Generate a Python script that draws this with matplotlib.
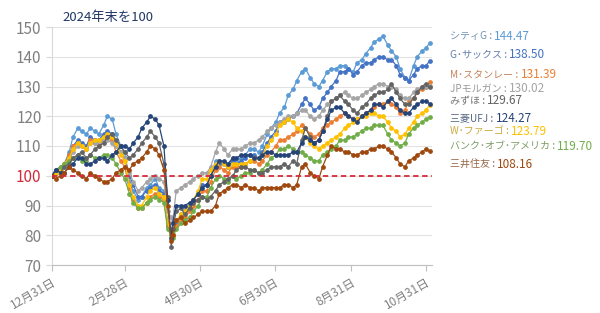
import pandas as pd
import matplotlib
matplotlib.use('Agg')
import matplotlib.pyplot as plt
import matplotlib.colors as mcolors

plt.rcParams['font.family'] = ['Noto Sans CJK JP', 'DejaVu Sans']

# 日付（火曜・金曜）
dates = ['2024-12-31', '2025-01-03', '2025-01-07', '2025-01-10', '2025-01-14', '2025-01-17',
         '2025-01-21', '2025-01-24', '2025-01-28', '2025-01-31',
         '2025-02-04', '2025-02-07', '2025-02-11', '2025-02-14', '2025-02-18', '2025-02-21',
         '2025-02-25', '2025-02-28',
         '2025-03-04', '2025-03-07', '2025-03-11', '2025-03-14', '2025-03-18', '2025-03-21',
         '2025-03-25', '2025-03-28',
         '2025-04-01', '2025-04-04', '2025-04-07', '2025-04-08', '2025-04-11', '2025-04-15',
         '2025-04-18', '2025-04-22', '2025-04-25', '2025-04-29',
         '2025-05-02', '2025-05-06', '2025-05-09', '2025-05-13', '2025-05-16', '2025-05-20',
         '2025-05-23', '2025-05-27', '2025-05-30',
         '2025-06-03', '2025-06-06', '2025-06-10', '2025-06-13', '2025-06-17', '2025-06-20',
         '2025-06-24', '2025-06-27',
         '2025-07-01', '2025-07-04', '2025-07-08', '2025-07-11', '2025-07-15', '2025-07-18',
         '2025-07-22', '2025-07-25', '2025-07-29',
         '2025-08-01', '2025-08-05', '2025-08-08', '2025-08-12', '2025-08-15', '2025-08-19',
         '2025-08-22', '2025-08-26', '2025-08-29',
         '2025-09-02', '2025-09-05', '2025-09-09', '2025-09-12', '2025-09-16', '2025-09-19',
         '2025-09-23', '2025-09-26', '2025-09-30',
         '2025-10-03', '2025-10-07', '2025-10-10', '2025-10-14', '2025-10-17', '2025-10-21',
         '2025-10-24', '2025-10-28', '2025-10-31', '2025-11-03']

citi = [100, 101, 103, 104, 108, 113, 116, 115, 114, 116,
        115, 114, 117, 120, 119, 114, 110, 108,
        98, 95, 92, 93, 96, 97, 99, 96,
        95, 84, 82, 80, 84, 87, 88, 90, 92, 94,
        97, 97, 100, 105, 105, 104, 103, 106, 105,
        106, 107, 109, 109, 108, 110, 114, 116,
        118, 121, 123, 127, 129, 132, 135, 136, 133,
        131, 130, 132, 135, 136, 136, 137, 137, 136,
        135, 138, 139, 141, 143, 145, 146, 147, 144,
        142, 140, 136, 133, 132, 137, 140, 142, 143, 144.47]
gs = [100, 102, 103, 104, 107, 110, 112, 111, 110, 113,
      112, 112, 114, 115, 114, 111, 108, 106,
      100, 97, 93, 93, 95, 96, 97, 95,
      94, 83, 81, 80, 84, 86, 88, 89, 92, 94,
      97, 97, 100, 103, 104, 104, 103, 105, 104,
      105, 106, 107, 107, 106, 108, 111, 113,
      115, 118, 118, 119, 120, 121, 124, 126, 124,
      122, 123, 126, 128, 130, 132, 135, 135, 136,
      134, 135, 137, 138, 138, 139, 140, 140, 139,
      139, 137, 134, 133, 132, 134, 136, 137, 137, 138.50]
ms = [100, 101, 102, 104, 107, 110, 111, 110, 109, 112,
      111, 110, 112, 113, 112, 108, 105, 103,
      96, 92, 89, 89, 91, 93, 94, 93,
      92, 83, 81, 80, 83, 85, 86, 88, 90, 92,
      95, 95, 98, 102, 103, 102, 101, 103, 103,
      103, 104, 105, 105, 104, 105, 107, 108,
      110, 112, 112, 113, 114, 115, 117, 116, 114,
      113, 114, 116, 117, 118, 119, 120, 121, 120,
      119, 119, 120, 121, 122, 123, 124, 124, 125,
      124, 123, 121, 122, 125, 126, 128, 129, 130, 131.39]
jpm = [100, 101, 102, 103, 105, 108, 110, 110, 109, 111,
       111, 111, 112, 112, 111, 110, 108, 106,
       101, 98, 95, 96, 98, 99, 100, 99,
       98, 88, 86, 84, 95, 96, 97, 98, 99, 100,
       101, 101, 103, 108, 111, 109, 107, 109, 109,
       109, 110, 111, 111, 112, 113, 115, 116,
       117, 118, 119, 120, 120, 121, 122, 122, 120,
       119, 120, 122, 124, 125, 126, 127, 128, 127,
       126, 126, 127, 128, 129, 130, 131, 131, 130,
       130, 129, 127, 126, 126, 128, 129, 130, 130, 130.02]
wfc = [100, 101, 102, 104, 106, 109, 111, 110, 109, 111,
       112, 112, 113, 114, 113, 111, 107, 105,
       97, 93, 90, 90, 93, 95, 96, 94,
       93, 84, 81, 80, 85, 87, 88, 90, 92, 95,
       99, 99, 102, 104, 105, 104, 103, 104, 104,
       104, 104, 105, 106, 106, 107, 110, 112,
       114, 117, 118, 119, 118, 116, 115, 113, 111,
       110, 109, 110, 111, 112, 113, 114, 116, 117,
       118, 119, 120, 120, 121, 121, 120, 120, 118,
       116, 115, 113, 114, 116, 118, 120, 121, 122, 123.79]
bofa = [100, 102, 103, 104, 105, 106, 107, 105, 105, 107,
        106, 106, 107, 107, 106, 104, 101, 99,
        94, 91, 89, 89, 91, 92, 93, 92,
        91, 82, 80, 79, 82, 84, 85, 86, 88, 90,
        93, 93, 96, 99, 100, 99, 98, 100, 99,
        100, 101, 101, 102, 101, 102, 104, 106,
        107, 109, 109, 110, 109, 108, 108, 107, 106,
        105, 105, 107, 108, 109, 110, 112, 112, 113,
        113, 114, 115, 116, 116, 117, 117, 117, 114,
        112, 111, 110, 111, 114, 116, 117, 118, 119, 119.70]
mizuho = [100, 102, 101, 103, 104, 106, 107, 108, 106, 107,
          109, 110, 111, 113, 114, 112, 110, 108,
          106, 107, 109, 111, 113, 115, 113, 111,
          104, 93, 76, 82, 88, 89, 87, 89, 91, 92,
          93, 92, 93, 95, 97, 98, 99, 100, 102,
          103, 103, 102, 102, 101, 101, 102, 103,
          103, 103, 104, 103, 105, 104, 112, 116, 113,
          111, 112, 115, 120, 125, 126, 127, 125, 124,
          122, 121, 123, 124, 126, 127, 128, 128, 129,
          131, 128, 126, 124, 124, 126, 128, 130, 131, 129.67]
mufg = [100, 102, 101, 101, 103, 104, 106, 106, 104, 104,
        105, 106, 106, 105, 107, 108, 110, 110,
        109, 111, 113, 116, 118, 120, 119, 117,
        110, 92, 79, 84, 90, 90, 90, 91, 92, 94,
        96, 97, 100, 103, 105, 105, 104, 106, 106,
        107, 107, 107, 106, 106, 107, 108, 108,
        107, 107, 107, 107, 108, 108, 111, 113, 112,
        111, 112, 115, 119, 122, 123, 123, 121, 120,
        119, 118, 120, 121, 122, 124, 124, 123, 125,
        126, 124, 122, 121, 121, 123, 124, 125, 125, 124.27]
smfg = [100, 99, 100, 101, 103, 102, 101, 100, 99, 101,
        100, 99, 98, 98, 99, 101, 102, 103,
        102, 104, 105, 106, 108, 110, 109, 107,
        102, 90, 78, 80, 85, 86, 84, 85, 86, 87,
        88, 88, 88, 90, 94, 95, 96, 97, 97,
        96, 97, 96, 96, 95, 96, 96, 96,
        96, 96, 97, 97, 96, 97, 103, 104, 101,
        100, 99, 103, 107, 110, 109, 109, 108, 108,
        107, 107, 108, 108, 109, 109, 110, 110, 109,
        108, 106, 104, 103, 105, 106, 107, 108, 109, 108.16]

names = ['シティG', 'G･サックス', 'M･スタンレー', 'JPモルガン', 'みずほ',
         '三菱UFJ', 'W･ファーゴ', 'バンク･オブ･アメリカ', '三井住友']
values = [citi, gs, ms, jpm, mizuho, mufg, wfc, bofa, smfg]
colors = ['#5B9BD5', '#4472C4', '#ED7D31', '#A5A5A5', '#636363',
          '#264478', '#FFC000', '#70AD47', '#9E480E']
label_y = [36, 55, 75, 89, 101, 118, 132, 146, 164]  # 右側ラベルの位置(px)

tick_dates = ['2024-12-31', '2025-02-28', '2025-04-30', '2025-06-30', '2025-08-31', '2025-10-31']
tick_labels = ['12月31日', '2月28日', '4月30日', '6月30日', '8月31日', '10月31日']

W, H = 600, 313
fig = plt.figure(figsize=(W / 100, H / 100), dpi=100)
ax = fig.add_axes([52 / W, 1 - 265 / H, 380 / W, 238 / H])

x = pd.to_datetime(dates)
order = [0, 1, 2, 3, 6, 7, 4, 5, 8]
for i in order:
    ax.plot(x, values[i], color=colors[i], lw=0.9, marker='o', ms=2.4,
            mec=colors[i], mfc=colors[i], zorder=3)

ax.axhline(100, color='#D42C3A', ls=(0, (3, 2)), lw=1.3, zorder=6)

ax.set_ylim(70, 150)
ax.set_yticks(range(70, 151, 10))
ax.set_xlim(pd.Timestamp('2024-12-31'), pd.Timestamp('2025-11-05'))
ax.grid(axis='y', color='#E2E2E2', lw=0.8)
ax.set_axisbelow(True)
for s in ['top', 'right']:
    ax.spines[s].set_visible(False)
ax.spines['left'].set_color('#D9D9D9')
ax.spines['bottom'].set_color('#BFBFBF')

ax.tick_params(axis='y', colors='#D9D9D9', labelcolor='#808080', labelsize=11, length=4)
for lab in ax.get_yticklabels():
    if lab.get_text() == '100':
        lab.set_color('#D42C3A')

ax.set_xticks(pd.to_datetime(tick_dates))
ax.set_xticklabels(tick_labels, rotation=30, ha='right', rotation_mode='anchor')
ax.tick_params(axis='x', colors='#BFBFBF', labelcolor='#808080', labelsize=8.5, length=4)

fig.text(62 / W, 1 - 18 / H, '2024年末を100', color='#203864', fontsize=9.5, va='center')

gray = mcolors.to_rgb('#8C8C8C')
for name, vals, col, yp in zip(names, values, colors, label_y):
    c = mcolors.to_rgb(col)
    namecol = tuple(0.55 * a + 0.45 * b for a, b in zip(c, gray))
    t = fig.text(450 / W, 1 - yp / H, name + ' : ', color=namecol, fontsize=7.2, va='center')
    ax.annotate(f'{vals[-1]:.2f}', xy=(1, 0.5), xycoords=t, va='center', ha='left',
                color=col, fontsize=8.5, annotation_clip=False)

fig.savefig('out.png', dpi=100, facecolor='white')
